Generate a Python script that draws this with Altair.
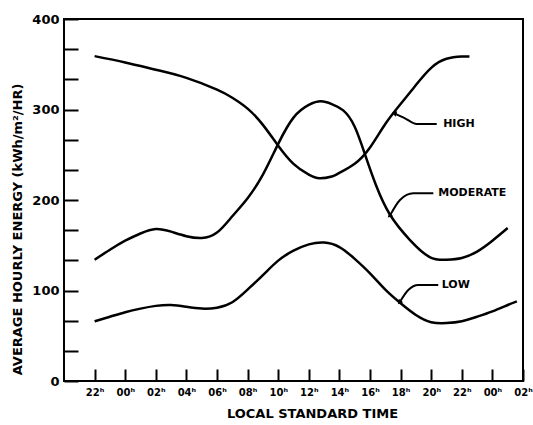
import altair as alt
import pandas as pd

# hours relative to midnight of day 1 (22h of previous day = -2)
high_hr = [-2, 0, 2, 4, 6, 7, 8, 9, 10, 11, 12, 12.7, 13.5, 14, 15, 16, 17, 18, 19, 20, 21, 22, 22.5]
high_val = [359, 352, 344, 335, 322, 313, 301, 283, 260, 240, 228, 224, 226, 230, 240, 258, 284, 306, 327, 346, 356, 358.5, 358.5]

mod_hr = [-2, -1, 0, 1, 2, 3, 4, 5, 6, 7, 8, 9, 10, 11, 12, 12.8, 13.5, 14.25, 15, 15.7, 16.4, 17.3, 18.6, 19.9, 21, 22, 23, 24, 25]
mod_val = [134, 145, 155, 163, 168, 165, 160, 158, 164, 182, 202, 228, 262, 291, 305, 309, 306, 299, 281, 249, 216, 184, 156, 137, 134, 136, 143, 155, 169]

low_hr = [-2, -1, 0, 1, 2, 3, 4, 5, 6, 7, 8, 9, 10, 11, 12, 13, 14, 15, 16, 17, 18, 19, 20, 21, 22, 23, 24, 25, 25.6]
low_val = [66, 71, 76, 80, 83, 84, 82, 80, 81, 87, 101, 117, 133, 144, 151, 153, 148, 135, 119, 101, 86, 73, 65, 64, 66, 71, 77, 84, 88]

x_ticks = [-2, 0, 2, 4, 6, 8, 10, 12, 14, 16, 18, 20, 22, 24, 26]
y_ticks = [i * 100 / 3 for i in range(13)]

label_names = ["HIGH", "MODERATE", "LOW"]
label_hr = [20.78, 20.46, 20.69]
label_val = [284, 207.4, 106]

leader_hr = [[17.63, 18.29, 19.05, 20.36],
             [17.31, 17.96, 18.83, 20.14],
             [17.96, 18.5, 19.16, 20.46]]
leader_val = [[295.5, 290.3, 284, 284],
              [183, 200, 207.4, 207.4],
              [87.5, 100.5, 106, 106]]
arrow_angle = [285, 225, 220]

rows = []
for name, hrs, vals in [("HIGH", high_hr, high_val), ("MODERATE", mod_hr, mod_val), ("LOW", low_hr, low_val)]:
    for h, v in zip(hrs, vals):
        rows.append({"series": name, "hour": h, "value": v})
curves = pd.DataFrame(rows)

lrows = []
for name, hs, vs in zip(label_names, leader_hr, leader_val):
    for i, (h, v) in enumerate(zip(hs, vs)):
        lrows.append({"series": name, "hour": h, "value": v, "ord": i})
leaders = pd.DataFrame(lrows)

arrows = pd.DataFrame({"series": label_names,
                       "hour": [hs[0] for hs in leader_hr],
                       "value": [vs[0] for vs in leader_val],
                       "angle": arrow_angle})
labels = pd.DataFrame({"series": label_names, "hour": label_hr, "value": label_val})

FONT = "DejaVu Sans"

x_axis = alt.Axis(
    values=x_ticks, tickCount=60,
    labelExpr="format((datum.value + 24) % 24, '02') + 'ʰ'",
    title="LOCAL STANDARD TIME",
    offset=-12, tickSize=12, tickWidth=2, tickColor="black",
    domain=False, grid=False,
    labelFont=FONT, labelFontSize=10, labelFontWeight="bold", labelColor="black",
    labelPadding=6, labelOverlap=False, labelFlush=False,
    titleFont=FONT, titleFontSize=13, titleFontWeight="bold", titleColor="black",
    titlePadding=10, titleX=248,
)
y_axis = alt.Axis(
    values=y_ticks, tickCount=60,
    labelExpr="abs(datum.value - round(datum.value / 100) * 100) < 0.01 ? format(datum.value, 'd') : ''",
    title="AVERAGE HOURLY ENERGY (kWh/m²/HR)",
    offset=-14, tickSize=14, tickWidth=2, tickColor="black",
    domain=False, grid=False,
    labelFont=FONT, labelFontSize=13, labelFontWeight="bold", labelColor="black",
    labelPadding=5, labelOverlap=False, labelFlush=False,
    titleFont=FONT, titleFontSize=13, titleFontWeight="bold", titleColor="black",
    titleX=-61, titleY=210, titleBaseline="middle",
)

xs = alt.Scale(domain=[-4, 26], nice=False, zero=False)
ys = alt.Scale(domain=[0, 400], nice=False, zero=False)

curve_layer = alt.Chart(curves).mark_line(
    color="black", strokeWidth=2.5, interpolate="natural"
).encode(
    x=alt.X("hour:Q", scale=xs, axis=x_axis),
    y=alt.Y("value:Q", scale=ys, axis=y_axis),
    detail="series:N",
)

leader_layer = alt.Chart(leaders).mark_line(
    color="black", strokeWidth=2, interpolate="monotone"
).encode(
    x="hour:Q",
    y="value:Q",
    detail="series:N",
    order="ord:Q",
)

arrow_layer = alt.Chart(arrows).mark_point(
    shape="triangle", filled=True, color="black", size=30, opacity=1
).encode(
    x="hour:Q",
    y="value:Q",
    angle=alt.Angle("angle:Q", scale=None),
)

text_layer = alt.Chart(labels).mark_text(
    align="left", baseline="middle", font=FONT, fontSize=11, fontWeight="bold", color="black"
).encode(
    x="hour:Q",
    y="value:Q",
    text="series:N",
)

chart = alt.layer(curve_layer, leader_layer, arrow_layer, text_layer).properties(
    width=459, height=362,
    autosize=alt.AutoSizeParams(type="none"),
    padding={"left": 64, "top": 19, "right": 10, "bottom": 44},
    background="white",
).configure_view(
    stroke="black", strokeWidth=2
)

chart.save("out.html", embed_options={"renderer": "svg", "actions": False})
